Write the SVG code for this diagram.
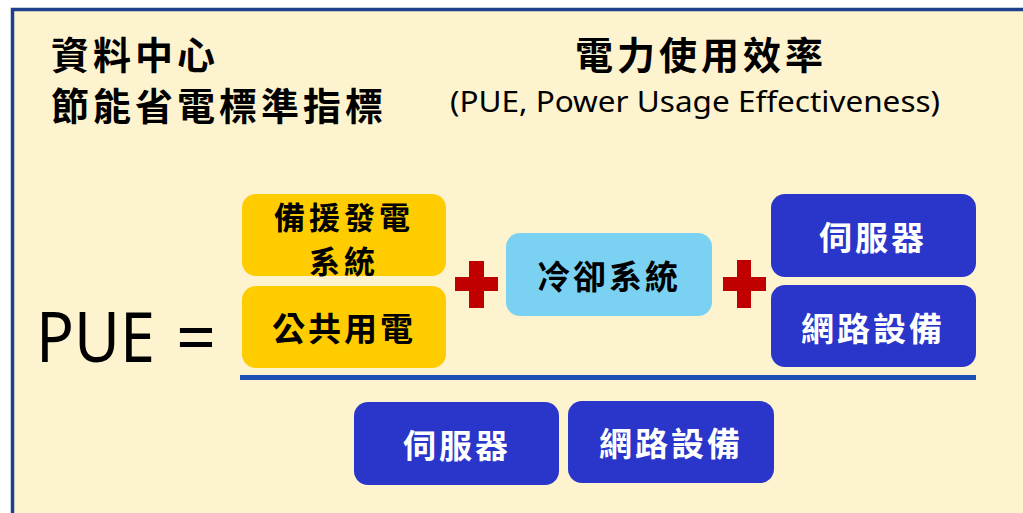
<svg xmlns="http://www.w3.org/2000/svg" width="1023" height="513" viewBox="0 0 1023 513">
<style>
.cjk{font-family:"Noto Sans CJK TC","Noto Sans CJK SC",sans-serif;}
.title{font-weight:700;font-size:38px;letter-spacing:4px;fill:#000;}
.lbl{font-weight:700;font-size:33px;letter-spacing:3px;text-anchor:middle;dominant-baseline:central;}
.lbl2{font-size:31px;letter-spacing:4px;}
.dark{fill:#ffffff;}
.blk{fill:#000;}
.ybox{fill:#ffcc00;}
.lbox{fill:#7ad1f2;}
.dbox{fill:#2a35c9;}
.plus{fill:#c00000;}
.lat{font-family:"Noto Sans","Open Sans",sans-serif;fill:#000;}
</style>
<rect x="0" y="0" width="1023" height="513" fill="#ffffff"/>
<rect x="12.5" y="9.5" width="1025" height="510" fill="#fdf3cf" stroke="#1e3f8c" stroke-width="3.5"/>
<g id="titles">
<text class="cjk title" x="51" y="69">資料中心</text>
<text class="cjk title" x="51" y="120">節能省電標準指標</text>
<text class="cjk title" x="701" y="69" text-anchor="middle" letter-spacing="5">電力使用效率</text>
<text class="lat" x="450" y="112" font-size="29" textLength="490" lengthAdjust="spacingAndGlyphs">(PUE, Power Usage Effectiveness)</text>
</g>
<g id="pue-label">
<text class="lat" x="36" y="362" font-size="70" textLength="119" lengthAdjust="spacingAndGlyphs">PUE</text>
<text class="lat" x="176" y="362" font-size="70">=</text>
</g>
<g id="backup-power">
<rect class="ybox" x="242" y="194" width="204" height="82" rx="14"/>
<text class="cjk lbl lbl2 blk" x="344" y="215">備援發電</text>
<text class="cjk lbl lbl2 blk" x="344" y="259">系統</text>
</g>
<g id="public-power">
<rect class="ybox" x="242" y="286" width="204" height="82" rx="14"/>
<text class="cjk lbl blk" x="344" y="327">公共用電</text>
</g>
<g id="plus1">
<rect class="plus" x="455" y="277" width="43" height="14"/>
<rect class="plus" x="469" y="261" width="15" height="47"/>
</g>
<g id="cooling">
<rect class="lbox" x="506" y="233" width="206" height="83" rx="14"/>
<text class="cjk lbl blk" x="609" y="275">冷卻系統</text>
</g>
<g id="plus2">
<rect class="plus" x="723" y="277" width="43" height="14"/>
<rect class="plus" x="737" y="260" width="14" height="48"/>
</g>
<g id="server-top">
<rect class="dbox" x="771" y="194" width="205" height="83" rx="14"/>
<text class="cjk lbl dark" x="873" y="236">伺服器</text>
</g>
<g id="network-top">
<rect class="dbox" x="771" y="285" width="205" height="82" rx="14"/>
<text class="cjk lbl dark" x="873" y="327">網路設備</text>
</g>
<g id="connectors">
<line x1="240" y1="377.5" x2="976" y2="377.5" stroke="#1e50b4" stroke-width="5"/>
</g>
<g id="server-bottom">
<rect class="dbox" x="354" y="402" width="205" height="83" rx="14"/>
<text class="cjk lbl dark" x="457" y="444">伺服器</text>
</g>
<g id="network-bottom">
<rect class="dbox" x="568" y="401" width="206" height="82" rx="14"/>
<text class="cjk lbl dark" x="671" y="442">網路設備</text>
</g>
</svg>
